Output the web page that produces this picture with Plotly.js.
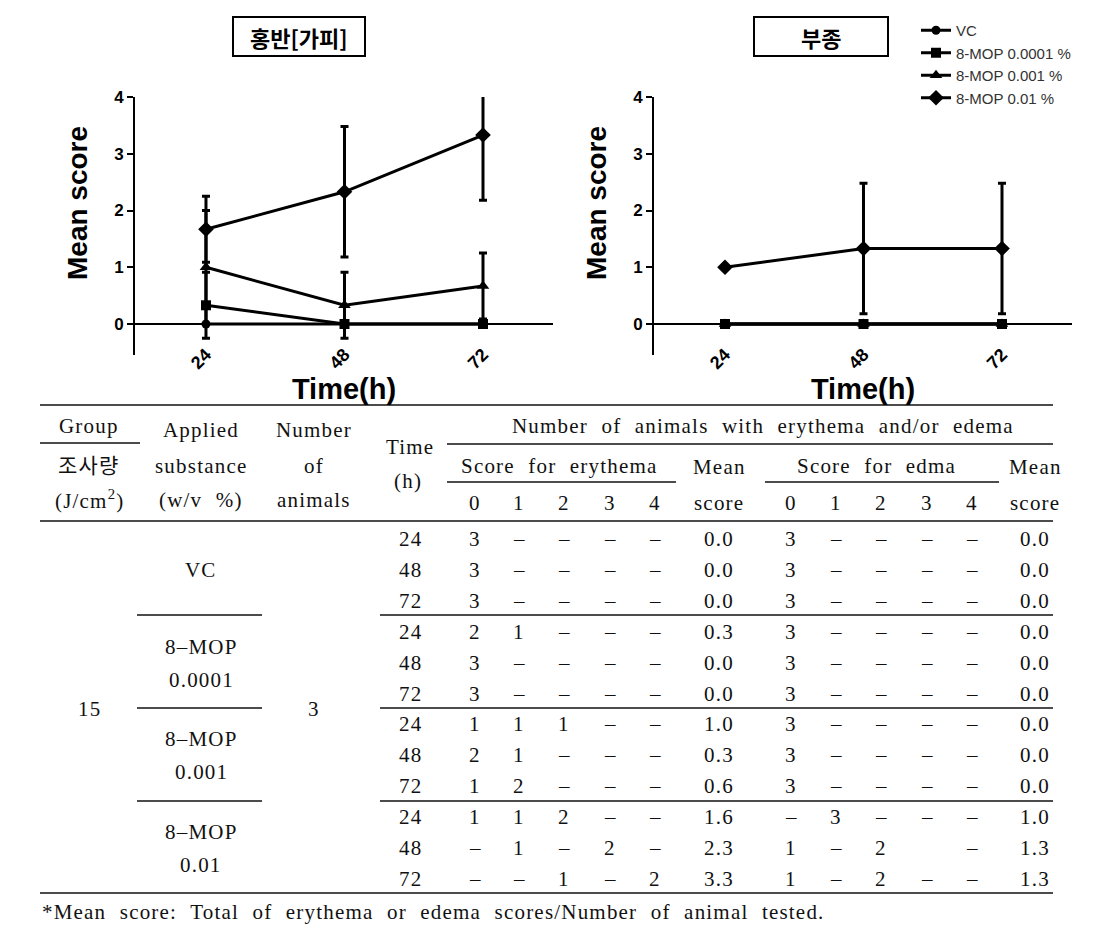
<!DOCTYPE html>
<html><head><meta charset="utf-8">
<script src="https://cdn.plot.ly/plotly-3.0.1.min.js"></script>
<style>
html,body{margin:0;padding:0;background:#fff;}
#chart{width:1110px;height:930px;}
text.annotation-text[style*="Liberation Serif"]{letter-spacing:1.2px;word-spacing:7px;}
</style>
</head><body><div id="chart"></div>
<script>
// ---------- chart data ----------
const times = [24, 48, 72];
const seriesNames = ['VC', '8-MOP 0.0001 %', '8-MOP 0.001 %', '8-MOP 0.01 %'];
const seriesSymbols = ['circle', 'square', 'triangle-up', 'diamond'];
const seriesSizes = [9, 10, 11, 12];

// 홍반[가피] (erythema) mean and SD
const erythemaVC = [0, 0, 0];
const erythemaVCsd = [0, 0, 0];
const erythemaMOP0001 = [0.33, 0, 0];
const erythemaMOP0001sd = [0.58, 0, 0];
const erythemaMOP001 = [1.0, 0.33, 0.67];
const erythemaMOP001sd = [1.0, 0.58, 0.58];
const erythemaMOP01 = [1.67, 2.33, 3.33];
const erythemaMOP01sd = [0.58, 1.15, 1.15];

// 부종 (edema) mean and SD
const edemaVC = [0, 0, 0];
const edemaVCsd = [0, 0, 0];
const edemaMOP0001 = [0, 0, 0];
const edemaMOP0001sd = [0, 0, 0];
const edemaMOP001 = [0, 0, 0];
const edemaMOP001sd = [0, 0, 0];
const edemaMOP01 = [1.0, 1.33, 1.33];
const edemaMOP01sd = [0, 1.15, 1.15];

const yTicks = [0, 1, 2, 3, 4];

// ---------- table data ----------
const headerGroup = ['Group', '조사량', '(J/cm<sup>2</sup>)'];
const headerApplied = ['Applied', 'substance', '(w/v %)'];
const headerNumber = ['Number', 'of', 'animals'];
const headerTime = ['Time', '(h)'];
const headerSpan = 'Number of animals with erythema and/or edema';
const headerErythema = 'Score for erythema';
const headerEdema = 'Score for edma';
const headerMean = ['Mean', 'score'];
const scoreLevels = ['0', '1', '2', '3', '4'];
const doseValue = '15';
const animalCount = '3';
const groupName = ['VC', '8–MOP', '8–MOP', '8–MOP'];
const groupConc = ['', '0.0001', '0.001', '0.01'];
const tableTimes = ['24', '48', '72'];
const D = '–';
const erythemaScoreRows = [
  ['3', D, D, D, D], ['3', D, D, D, D], ['3', D, D, D, D],
  ['2', '1', D, D, D], ['3', D, D, D, D], ['3', D, D, D, D],
  ['1', '1', '1', D, D], ['2', '1', D, D, D], ['1', '2', D, D, D],
  ['1', '1', '2', D, D], [D, '1', D, '2', D], [D, D, '1', D, '2']
];
const erythemaMeanCol = ['0.0', '0.0', '0.0', '0.3', '0.0', '0.0', '1.0', '0.3', '0.6', '1.6', '2.3', '3.3'];
const edemaScoreRows = [
  ['3', D, D, D, D], ['3', D, D, D, D], ['3', D, D, D, D],
  ['3', D, D, D, D], ['3', D, D, D, D], ['3', D, D, D, D],
  ['3', D, D, D, D], ['3', D, D, D, D], ['3', D, D, D, D],
  [D, '3', D, D, D], ['1', D, '2', '', D], ['1', D, '2', D, D]
];
const edemaMeanCol = ['0.0', '0.0', '0.0', '0.0', '0.0', '0.0', '0.0', '0.0', '0.0', '1.0', '1.3', '1.3'];
const footnote = '*Mean score: Total of erythema or edema scores/Number of animal tested.';

// ---------- layout helpers (pixel -> paper) ----------
const W = 1110, H = 930;
const px = x => x / W;
const py = y => 1 - y / H;

const SANS = '"Liberation Sans", Arial, sans-serif';
const SERIF = '"Liberation Serif", "Noto Sans CJK KR", serif';
const KR = '"Noto Sans CJK KR", sans-serif';

const yRange = [-0.546, 4];
const xRange = [11.7, 84.13];
const yDom = [py(355), py(97)];
const zeroPos = yDom[0] + (0 - yRange[0]) / (yRange[1] - yRange[0]) * (yDom[1] - yDom[0]);

function series(xa, ya, y, sd, i, show) {
  return {
    type: 'scatter', mode: 'lines+markers', x: times, y: y, xaxis: xa, yaxis: ya,
    name: seriesNames[i], showlegend: show, legendgroup: 'g' + i,
    line: {color: '#000', width: 3},
    marker: {symbol: seriesSymbols[i], size: seriesSizes[i], color: '#000'},
    error_y: {type: 'data', array: sd, visible: true, color: '#000', thickness: 3, width: 4}
  };
}

const data = [
  series('x', 'y', erythemaVC, erythemaVCsd, 0, true),
  series('x', 'y', erythemaMOP0001, erythemaMOP0001sd, 1, true),
  series('x', 'y', erythemaMOP001, erythemaMOP001sd, 2, true),
  series('x', 'y', erythemaMOP01, erythemaMOP01sd, 3, true),
  series('x2', 'y2', edemaVC, edemaVCsd, 0, false),
  series('x2', 'y2', edemaMOP0001, edemaMOP0001sd, 1, false),
  series('x2', 'y2', edemaMOP001, edemaMOP001sd, 2, false),
  series('x2', 'y2', edemaMOP01, edemaMOP01sd, 3, false)
];

function xAxis(d0, d1) {
  return {
    domain: [px(d0), px(d1)], range: xRange, anchor: 'free', position: zeroPos,
    tickvals: times, ticktext: times.map(String), tickangle: -45,
    ticks: 'outside', ticklen: 12, tickcolor: 'rgba(0,0,0,0)',
    tickfont: {family: SANS, size: 18, weight: 'bold', color: '#000'},
    showline: true, linecolor: '#000', linewidth: 2,
    showgrid: false, zeroline: false, fixedrange: true,
    title: {text: 'Time(h)', font: {family: SANS, size: 29, weight: 'bold', color: '#000'}, standoff: 0}
  };
}
function yAxis(anchor) {
  return {
    domain: yDom, range: yRange, anchor: anchor,
    tickvals: yTicks, ticktext: yTicks.map(String),
    ticks: 'outside', ticklen: 6, tickwidth: 2, tickcolor: '#000',
    tickfont: {family: SANS, size: 17, weight: 'bold', color: '#000'},
    showline: true, linecolor: '#000', linewidth: 2,
    showgrid: false, zeroline: false, fixedrange: true
  };
}

const annotations = [];
const shapes = [];
function ann(text, x, y, font, extra) {
  annotations.push(Object.assign({
    text: text, x: px(x), y: py(y), xref: 'paper', yref: 'paper',
    xanchor: 'center', yanchor: 'middle', showarrow: false, font: font
  }, extra || {}));
}
function hline(x0, x1, y, w) {
  shapes.push({type: 'line', xref: 'paper', yref: 'paper', x0: px(x0), x1: px(x1), y0: py(y), y1: py(y),
    line: {color: '#111', width: w || 1.3}});
}

// chart titles in boxes
const titleFont = {family: KR, size: 22, weight: 'bold', color: '#000'};
ann('홍반[가피]', 299, 37, titleFont);
ann('부종', 821, 37, titleFont);
shapes.push({type: 'rect', xref: 'paper', yref: 'paper', x0: px(233), x1: px(365), y0: py(56), y1: py(17), line: {color: '#000', width: 2}});
shapes.push({type: 'rect', xref: 'paper', yref: 'paper', x0: px(754), x1: px(888), y0: py(56), y1: py(17), line: {color: '#000', width: 2}});
// y axis titles
const axTitleFont = {family: SANS, size: 28, weight: 'bold', color: '#000'};
ann('Mean score', 78, 203, axTitleFont, {textangle: -90});
ann('Mean score', 597, 203, axTitleFont, {textangle: -90});

// ---------- table ----------
const TF = {family: SERIF, size: 21, color: '#111'};
const TX = {group: 89, applied: 201, number: 314, time: 410,
  ery: [475, 519, 564, 610, 655], eryMean: 719,
  ede: [791, 836, 881, 927, 972], edeMean: 1035};
const rowY0 = 539, rowStep = 30.9;

// header
ann(headerGroup[0], TX.group, 426, TF);
ann(headerGroup[1], TX.group, 466, TF);
ann(headerGroup[2], TX.group, 500, TF);
ann(headerApplied[0], TX.applied, 430, TF);
ann(headerApplied[1], TX.applied, 466, TF);
ann(headerApplied[2], TX.applied, 500, TF);
ann(headerNumber[0], TX.number, 430, TF);
ann(headerNumber[1], TX.number, 466, TF);
ann(headerNumber[2], TX.number, 500, TF);
ann(headerTime[0], TX.time, 447, TF);
ann(headerTime[1], TX.time - 2, 481, TF);
ann(headerSpan, 763, 426, TF);
ann(headerErythema, 559, 466, TF);
ann(headerEdema, 876, 466, TF);
ann(headerMean[0], TX.eryMean, 467, TF);
ann(headerMean[1], TX.eryMean, 503, TF);
ann(headerMean[0], TX.edeMean, 467, TF);
ann(headerMean[1], TX.edeMean, 503, TF);
scoreLevels.forEach((s, k) => {
  ann(s, TX.ery[k], 503, TF);
  ann(s, TX.ede[k], 503, TF);
});

// body
for (let r = 0; r < 12; r++) {
  const y = rowY0 + r * rowStep;
  ann(tableTimes[r % 3], TX.time, y, TF);
  erythemaScoreRows[r].forEach((v, k) => { if (v) ann(v, TX.ery[k], y, TF); });
  ann(erythemaMeanCol[r], TX.eryMean, y, TF);
  edemaScoreRows[r].forEach((v, k) => { if (v) ann(v, TX.ede[k], y, TF); });
  ann(edemaMeanCol[r], TX.edeMean, y, TF);
}
for (let g = 0; g < 4; g++) {
  const yc = rowY0 + (g * 3 + 1) * rowStep;
  if (groupConc[g]) {
    ann(groupName[g], TX.applied, yc - 16, TF);
    ann(groupConc[g], TX.applied, yc + 17, TF);
  } else {
    ann(groupName[g], TX.applied, yc, TF);
  }
}
const midY = rowY0 + 5.5 * rowStep;
ann(doseValue, TX.group, midY, TF);
ann(animalCount, TX.number, midY, TF);
ann(footnote, 40, 912, TF, {xanchor: 'left'});

// rules
hline(40, 1053, 405);
hline(40, 140, 443);
hline(447, 1053, 444);
hline(447, 676, 482);
hline(765, 999, 482);
hline(40, 1053, 521);
[615, 708, 801].forEach(y => { hline(137, 262, y); hline(380, 1053, y); });
hline(40, 1053, 893);

const layout = {
  width: W, height: H, margin: {l: 0, r: 0, t: 0, b: 0},
  paper_bgcolor: '#fff', plot_bgcolor: '#fff',
  showlegend: true,
  legend: {x: px(916), y: py(14), xanchor: 'left', yanchor: 'top', bgcolor: 'rgba(0,0,0,0)',
    font: {family: SANS, size: 15, color: '#333'}, itemwidth: 30, traceorder: 'normal'},
  xaxis: xAxis(135, 553),
  yaxis: yAxis('x'),
  xaxis2: xAxis(654, 1072),
  yaxis2: yAxis('x2'),
  annotations: annotations,
  shapes: shapes
};

Plotly.newPlot('chart', data, layout, {displayModeBar: false, staticPlot: true});
</script>
</body></html>
